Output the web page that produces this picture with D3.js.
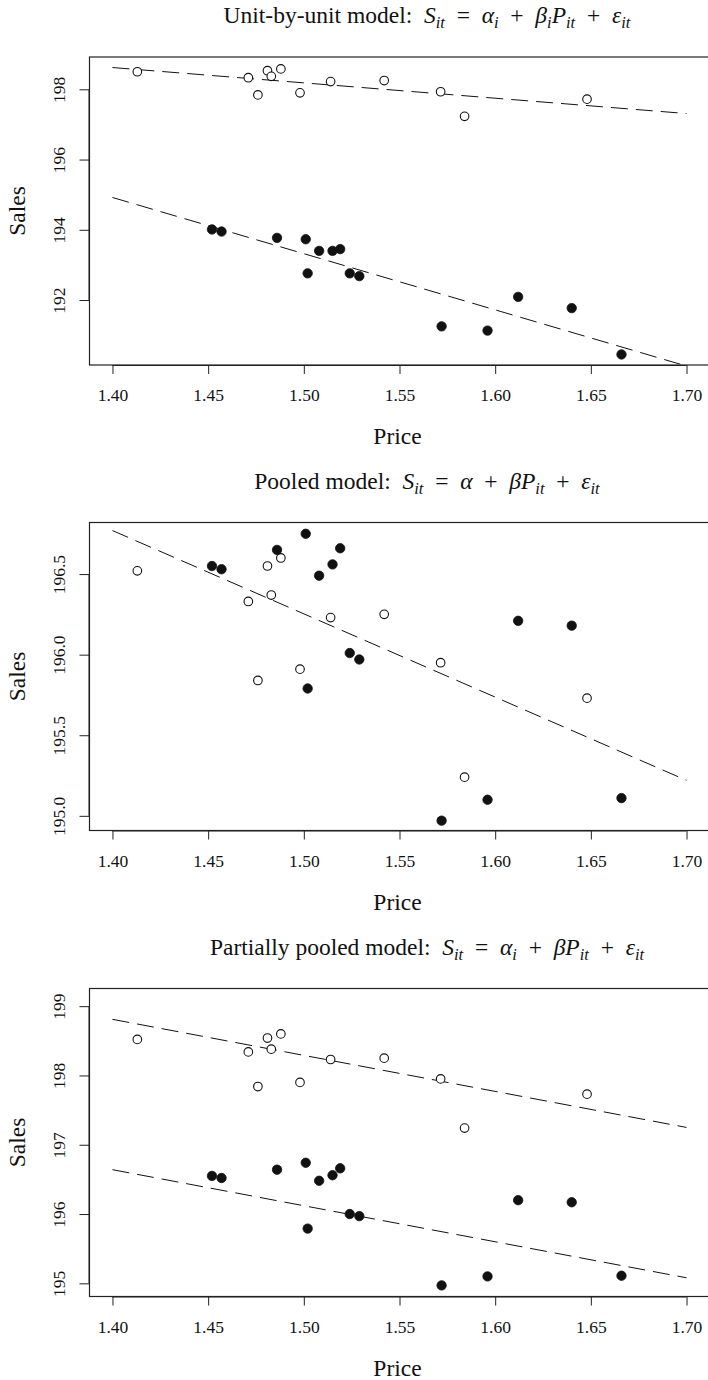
<!DOCTYPE html>
<html>
<head>
<meta charset="utf-8">
<script src="https://cdn.jsdelivr.net/npm/d3@7"></script>
<style>
  html, body { margin: 0; padding: 0; background: #fff; }
  svg text { font-family: "Liberation Serif", "Times New Roman", serif; fill: #111; }
</style>
</head>
<body>
<svg id="chart" width="708" height="1380"></svg>
<script>
// prices (same for all three panels)
var priceOpen   = [1.413, 1.471, 1.476, 1.481, 1.483, 1.488, 1.498, 1.514, 1.542, 1.5715, 1.584, 1.648];
var priceFilled = [1.452, 1.457, 1.486, 1.501, 1.502, 1.508, 1.515, 1.519, 1.524, 1.529, 1.572, 1.596, 1.612, 1.640, 1.666];

// unit-by-unit panel
var unitOpenSales   = [198.50, 198.33, 197.84, 198.53, 198.37, 198.58, 197.90, 198.22, 198.25, 197.93, 197.23, 197.72];
var unitFilledSales = [194.01, 193.95, 193.77, 193.73, 192.76, 193.40, 193.40, 193.45, 192.76, 192.68, 191.25, 191.13, 192.09, 191.77, 190.45];

// pooled panel
var pooledOpenSales   = [196.52, 196.33, 195.84, 196.55, 196.37, 196.60, 195.91, 196.23, 196.25, 195.95, 195.24, 195.73];
var pooledFilledSales = [196.55, 196.53, 196.65, 196.75, 195.79, 196.49, 196.56, 196.66, 196.01, 195.97, 194.97, 195.10, 196.21, 196.18, 195.11];

// partially pooled panel
var partialOpenSales   = [198.52, 198.34, 197.84, 198.54, 198.38, 198.60, 197.90, 198.23, 198.25, 197.95, 197.24, 197.73];
var partialFilledSales = [196.55, 196.52, 196.64, 196.74, 195.79, 196.48, 196.56, 196.66, 196.00, 195.97, 194.97, 195.10, 196.20, 196.17, 195.11];

// fitted lines, value at price 1.40 and 1.70
var lineEnds = [1.40, 1.70];
var unitLineOpen      = [198.62, 197.31];
var unitLineFilled    = [194.92, 190.12];
var pooledLine        = [196.77, 195.22];
var partialLineOpen   = [198.81, 197.25];
var partialLineFilled = [196.64, 195.08];

// ticks
var xTicks  = [1.40, 1.45, 1.50, 1.55, 1.60, 1.65, 1.70];
var yTicks1 = [192, 194, 196, 198];
var yTicks2 = [195.0, 195.5, 196.0, 196.5];
var yTicks3 = [195, 196, 197, 198, 199];

var svg = d3.select("#chart");

var left = 89.5, right = 709.5, boxH = 308;
var x = d3.scaleLinear().domain([1.388, 1.712]).range([left, right]);

var panels = [
  { top: 57, ylim: [190.15, 198.92], ticks: yTicks1, fmt: d3.format("d"),
    title: [["Unit-by-unit model:  "], ["S", "i"], ["it", "s"], ["  =  "], ["\u03b1", "i"], ["i", "s"], ["  +  "], ["\u03b2", "i"], ["i", "s"], ["P", "i"], ["it", "s"], ["  +  "], ["\u03b5", "i"], ["it", "s"]],
    series: [[priceOpen, unitOpenSales, "open"], [priceFilled, unitFilledSales, "filled"]],
    lines: [unitLineOpen, unitLineFilled] },
  { top: 522.5, ylim: [194.909, 196.82], ticks: yTicks2, fmt: d3.format(".1f"),
    title: [["Pooled model:  "], ["S", "i"], ["it", "s"], ["  =  "], ["\u03b1", "i"], ["  +  "], ["\u03b2", "i"], ["P", "i"], ["it", "s"], ["  +  "], ["\u03b5", "i"], ["it", "s"]],
    series: [[priceOpen, pooledOpenSales, "open"], [priceFilled, pooledFilledSales, "filled"]],
    lines: [pooledLine] },
  { top: 988.5, ylim: [194.81, 199.255], ticks: yTicks3, fmt: d3.format("d"),
    title: [["Partially pooled model:  "], ["S", "i"], ["it", "s"], ["  =  "], ["\u03b1", "i"], ["i", "s"], ["  +  "], ["\u03b2", "i"], ["P", "i"], ["it", "s"], ["  +  "], ["\u03b5", "i"], ["it", "s"]],
    series: [[priceOpen, partialOpenSales, "open"], [priceFilled, partialFilledSales, "filled"]],
    lines: [partialLineOpen, partialLineFilled] }
];

panels.forEach(function (p) {
  var bottom = p.top + boxH;
  var y = d3.scaleLinear().domain(p.ylim).range([bottom, p.top]);
  var g = svg.append("g");

  // title with sub/italic pieces
  var t = g.append("text").attr("x", 427).attr("y", p.top - 34)
      .attr("text-anchor", "middle").style("font-size", "23.5px")
      .style("white-space", "pre");
  var shifted = false;
  p.title.forEach(function (seg) {
    var ts = t.append("tspan").text(seg[0]);
    if (seg[1] === "i" || seg[1] === "s") ts.style("font-style", "italic");
    if (seg[1] === "s") {
      ts.style("font-size", "16.5px");
      if (!shifted) { ts.attr("dy", 5); shifted = true; }
    } else if (shifted) {
      ts.attr("dy", -5); shifted = false;
    }
  });

  // fitted lines
  p.lines.forEach(function (ln) {
    g.append("line")
      .attr("x1", x(lineEnds[0])).attr("y1", y(ln[0]))
      .attr("x2", x(lineEnds[1])).attr("y2", y(ln[1]))
      .attr("stroke", "#111").attr("stroke-width", 1)
      .attr("stroke-dasharray", "17,8");
  });

  // points
  p.series.forEach(function (s) {
    var pts = s[0].map(function (d, i) { return [d, s[1][i]]; });
    g.selectAll(null).data(pts).enter().append("circle")
      .attr("cx", function (d) { return x(d[0]); })
      .attr("cy", function (d) { return y(d[1]); })
      .attr("r", s[2] === "open" ? 4.3 : 4.7)
      .attr("fill", s[2] === "open" ? "#fff" : "#111")
      .attr("stroke", "#111").attr("stroke-width", s[2] === "open" ? 1.1 : 0.8);
  });

  // box
  g.append("rect").attr("x", left).attr("y", p.top)
    .attr("width", right - left).attr("height", boxH)
    .attr("fill", "none").attr("stroke", "#222").attr("stroke-width", 1.2);

  // x axis
  var xa = d3.axisBottom(x).tickValues(xTicks).tickFormat(d3.format(".2f"))
      .tickSize(9).tickPadding(15);
  var gx = g.append("g").attr("transform", "translate(0," + bottom + ")").call(xa);
  gx.select(".domain").attr("d", "M" + x(xTicks[0]) + ",0.5H" + x(xTicks[xTicks.length - 1]))
    .attr("stroke", "#222");
  gx.selectAll(".tick line").attr("stroke", "#222");
  gx.selectAll("text").style("font-size", "17.5px").attr("fill", "#111")
    .style("font-family", "Liberation Serif");

  // y axis (labels parallel to axis)
  var ya = d3.axisLeft(y).tickValues(p.ticks).tickFormat(p.fmt).tickSize(10).tickPadding(0);
  var gy = g.append("g").attr("transform", "translate(" + left + ",0)").call(ya);
  gy.select(".domain").attr("d", "M-0.5," + y(p.ticks[0]) + "V" + y(p.ticks[p.ticks.length - 1]))
    .attr("stroke", "#222");
  gy.selectAll(".tick line").attr("stroke", "#222");
  gy.selectAll("text").style("font-size", "17.5px").attr("fill", "#111")
    .style("font-family", "Liberation Serif")
    .attr("x", null).attr("dy", null)
    .attr("text-anchor", "middle").attr("dominant-baseline", "central")
    .attr("transform", "translate(-31,0) rotate(-90)");

  // axis titles
  g.append("text").attr("x", (left + right) / 2 - 2).attr("y", bottom + 71)
    .attr("text-anchor", "middle").attr("dominant-baseline", "central")
    .style("font-size", "23.5px").text("Price");
  g.append("text").attr("transform", "translate(17," + (p.top + boxH / 2) + ") rotate(-90)")
    .attr("text-anchor", "middle").attr("dominant-baseline", "central")
    .style("font-size", "23.5px").text("Sales");
});
</script>
</body>
</html>
